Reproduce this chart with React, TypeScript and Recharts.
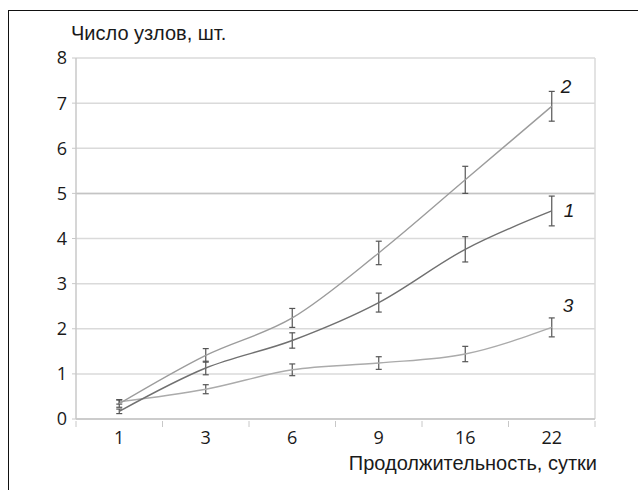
import React from "react";
import { LineChart, Line, XAxis, YAxis, CartesianGrid, ErrorBar, LabelList, ReferenceLine } from "recharts";

const days = ["1", "3", "6", "9", "16", "22"];
const series1 = [0.17, 1.13, 1.74, 2.58, 3.76, 4.61];
const series2 = [0.34, 1.41, 2.24, 3.68, 5.3, 6.93];
const series3 = [0.38, 0.66, 1.09, 1.24, 1.44, 2.03];
const err1 = [0.05, 0.15, 0.17, 0.21, 0.28, 0.33];
const err2 = [0.08, 0.15, 0.21, 0.26, 0.3, 0.33];
const err3 = [0.05, 0.1, 0.13, 0.14, 0.17, 0.21];
const yTicks = [0, 1, 2, 3, 4, 5, 6, 7, 8];

const data = days.map((d, i) => ({
  pos: i + 0.5,
  day: d,
  s1: series1[i],
  s2: series2[i],
  s3: series3[i],
  e1: err1[i],
  e2: err2[i],
  e3: err3[i],
}));

const xTicks: number[] = [];
for (let i = 0; i <= days.length * 2; i++) xTicks.push(i / 2);

const tickFont = "'Open Sans', 'DejaVu Sans', sans-serif";
const labelFont = "'Liberation Sans Narrow', 'Liberation Sans', Arial, sans-serif";

const XTick = (props: any) => {
  const { x, y, payload } = props;
  const v = payload.value;
  if (Number.isInteger(v)) {
    return <line x1={x} x2={x} y1={y} y2={y + 6} stroke="#c8c8c8" />;
  }
  return (
    <text x={x} y={y + 10} dy="0.71em" textAnchor="middle" fontSize={18} fontFamily={tickFont} fill="#1a1a1a">
      {days[Math.floor(v)]}
    </text>
  );
};

const endLabel = (name: string, dx: number, dy: number) => (props: any) => {
  const { x, y, index } = props;
  if (index !== days.length - 1) return null;
  return (
    <text x={x + dx} y={y + dy} fontSize={19} fontStyle="italic" fontFamily={labelFont} fill="#1a1a1a">
      {name}
    </text>
  );
};

export default function App() {
  return (
    <div style={{ position: "relative", width: 638, height: 490, background: "#fff" }}>
      <style>{"body{margin:0}"}</style>
      <div style={{ position: "absolute", left: 8, top: 10, right: 0, bottom: 0, borderTop: "1.5px solid #111", borderLeft: "1.5px solid #111" }} />
      <div style={{ position: "absolute", left: 71, top: 22, fontSize: 20, fontFamily: labelFont, color: "#1a1a1a", whiteSpace: "nowrap" }}>
        Число узлов, шт.
      </div>
      <div style={{ position: "absolute", right: 41, top: 452, fontSize: 20, fontFamily: labelFont, color: "#1a1a1a", whiteSpace: "nowrap" }}>
        Продолжительность, сутки
      </div>
      <div style={{ position: "absolute", left: 0, top: 0 }}>
        <LineChart width={638} height={490} data={data} margin={{ top: 58, right: 43, bottom: 41, left: 0 }}>
          <CartesianGrid vertical={false} stroke="#dadada" strokeWidth={1.5} />
          <ReferenceLine y={5} stroke="#c4c4c4" strokeWidth={1.5} />
          <ReferenceLine x={6} stroke="#dadada" strokeWidth={1.5} />
          <XAxis
            type="number"
            dataKey="pos"
            domain={[0, 6]}
            ticks={xTicks}
            interval={0}
            height={30}
            tickLine={false}
            tickSize={0}
            axisLine={{ stroke: "#c4c4c4", strokeWidth: 1.5 }}
            tick={<XTick />}
          />
          <YAxis
            domain={[0, 8]}
            ticks={yTicks}
            interval={0}
            width={76}
            tickSize={4}
            tickMargin={5}
            axisLine={{ stroke: "#c8c8c8", strokeWidth: 1.5 }}
            tickLine={{ stroke: "#c8c8c8" }}
            tick={{ fontSize: 18, fontFamily: tickFont, fill: "#1a1a1a" }}
          />
          <Line type="monotone" dataKey="s3" stroke="#ababab" strokeWidth={1.4} dot={false} isAnimationActive={false}>
            <ErrorBar dataKey="e3" width={3} stroke="#555" strokeWidth={1.2} direction="y" />
            <LabelList dataKey="s3" content={endLabel("3", 11, -15)} />
          </Line>
          <Line type="monotone" dataKey="s2" stroke="#9c9c9c" strokeWidth={1.4} dot={false} isAnimationActive={false}>
            <ErrorBar dataKey="e2" width={3} stroke="#555" strokeWidth={1.2} direction="y" />
            <LabelList dataKey="s2" content={endLabel("2", 9, -13)} />
          </Line>
          <Line type="monotone" dataKey="s1" stroke="#707070" strokeWidth={1.4} dot={false} isAnimationActive={false}>
            <ErrorBar dataKey="e1" width={3} stroke="#555" strokeWidth={1.2} direction="y" />
            <LabelList dataKey="s1" content={endLabel("1", 12, 6)} />
          </Line>
        </LineChart>
      </div>
    </div>
  );
}
